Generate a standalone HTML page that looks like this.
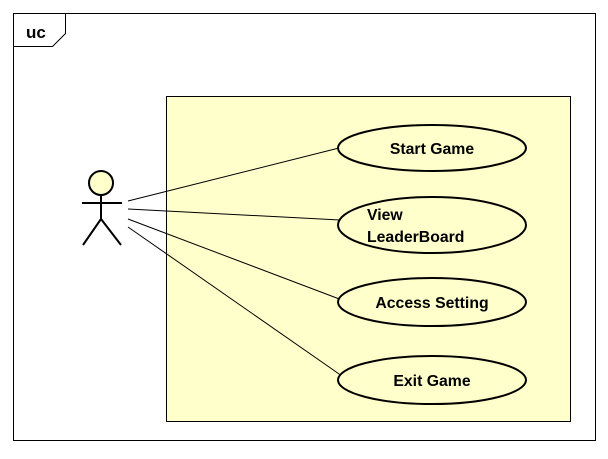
<!DOCTYPE html>
<html><head><style>body{margin:0;background:#fff}</style></head><body>
<svg width="608" height="454" xmlns="http://www.w3.org/2000/svg" font-family="Liberation Sans, sans-serif" font-weight="bold">
<rect x="13.5" y="13.5" width="582" height="427" fill="#fff" stroke="#000"/>
<path d="M13.5 46.5 H52.5 L65.5 33.5 V13.5" fill="none" stroke="#000"/>
<text x="26" y="38" font-size="17">uc</text>
<rect x="166.5" y="96.5" width="404" height="325" fill="#ffffcc" stroke="#000"/>
<g stroke="#000" stroke-width="1" fill="none">
<line x1="128" y1="201" x2="339" y2="148"/>
<line x1="128" y1="209" x2="340" y2="220"/>
<line x1="128" y1="219" x2="342" y2="300"/>
<line x1="128" y1="227" x2="342" y2="376"/>
</g>
<g stroke="#000" stroke-width="2" fill="#ffffcc">
<ellipse cx="432" cy="148" rx="94" ry="23"/>
<ellipse cx="432" cy="225" rx="94" ry="28"/>
<ellipse cx="432" cy="302" rx="94" ry="24"/>
<ellipse cx="432" cy="380" rx="94" ry="24"/>
<circle cx="101" cy="183" r="12"/>
<line x1="101" y1="195" x2="101" y2="219"/>
<line x1="82" y1="203" x2="122" y2="203"/>
<polyline points="83,245 101,219 121,245" fill="none"/>
</g>
<g font-size="15.8" fill="#000">
<text x="432" y="154" text-anchor="middle">Start Game</text>
<text x="367" y="220">View</text>
<text x="367" y="242">LeaderBoard</text>
<text x="432" y="308" text-anchor="middle">Access Setting</text>
<text x="432" y="386" text-anchor="middle">Exit Game</text>
</g>
</svg>
</body></html>
